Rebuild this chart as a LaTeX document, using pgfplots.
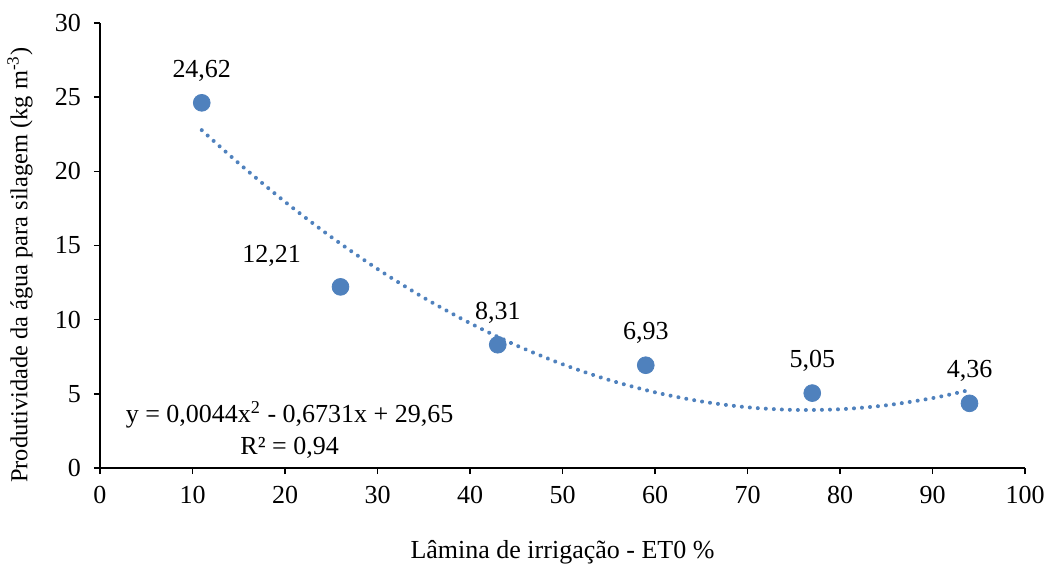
\documentclass[border=0pt]{standalone}
\usepackage{fontspec}
\setmainfont{Liberation Serif}
\usepackage{pgfplots}
\pgfplotsset{compat=1.18}
\definecolor{xlblue}{RGB}{79,129,189}
\begin{document}
\begin{tikzpicture}
\path[use as bounding box] (-50pt,-50.5pt) rectangle (475pt,234pt);
\begin{axis}[
  at={(0,0)}, anchor=south west,
  scale only axis, width=462.5pt, height=222.5pt,
  xmin=0, xmax=100, ymin=0, ymax=30,
  xtick={0,10,...,100}, ytick={0,5,...,30},
  axis lines*=left,
  axis line style={line width=0.75pt},
  tick style={line width=0.75pt, black},
  tick align=outside, major tick length=3pt,
  /pgf/number format/assume math mode=true,
  font=\fontsize{13}{15.6}\selectfont,
  ticklabel style={font=\fontsize{13}{15.6}\selectfont},
  xticklabel style={yshift=-2.5pt},
  yticklabel style={xshift=-3pt},
  xlabel={Lâmina de irrigação - ET0 \%},
  ylabel={Produtividade da água para silagem (kg m\textsuperscript{-3})},
  every axis x label/.style={at={(axis description cs:0.5,-0.189)}, anchor=center, font=\fontsize{13}{15.6}\selectfont},
  every axis y label/.style={at={(axis description cs:-0.0865,0.456)}, rotate=90, anchor=center, font=\fontsize{12.2}{15}\selectfont},
  clip=false,
]
\addplot[xlblue, line width=2pt, line cap=round, dash pattern=on 0.01pt off 4pt, smooth, mark=none] coordinates {
(11,22.778) (15,20.544) (20,17.948) (25,15.573) (30,13.417) (35,11.482) (40,9.766) (45,8.271) (50,6.995) (55,5.940) (60,5.104) (65,4.489) (70,4.093) (75,3.918) (80,3.962) (85,4.227) (90,4.711) (94,5.257)
};
\addplot[only marks, mark=*, mark size=4.2pt, color=xlblue,
  nodes near coords, point meta=explicit symbolic,
  every node near coord/.style={anchor=center, yshift=16pt, black, font=\fontsize{13}{15.6}\selectfont}]
  table[meta=lab] {
x y lab
11 24.62 24,62
43 8.31 8,31
59 6.93 6,93
77 5.05 5,05
94 4.36 4,36
};
\addplot[only marks, mark=*, mark size=4.2pt, color=xlblue,
  nodes near coords, point meta=explicit symbolic,
  every node near coord/.style={anchor=center, xshift=-34.5pt, yshift=15.5pt, black, font=\fontsize{13}{15.6}\selectfont}]
  table[meta=lab] {
x y lab
26 12.21 12,21
};
\node[align=center, font=\fontsize{13}{16}\selectfont] at (axis cs:20.5,2.55) {y = 0,0044x\textsuperscript{2} - 0,6731x + 29,65\\ R² = 0,94};
\end{axis}
\end{tikzpicture}
\end{document}
